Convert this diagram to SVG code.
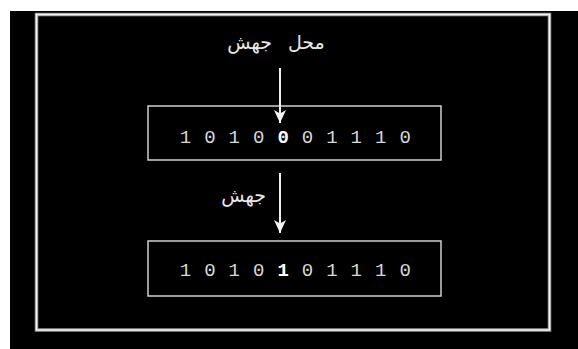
<svg xmlns="http://www.w3.org/2000/svg" width="578" height="349" viewBox="0 0 578 349">
  <style>
    .box { fill: #000; stroke: #d0d0d0; stroke-width: 1.5; }
    .bit { font-family: "Liberation Mono", "DejaVu Sans Mono", monospace; font-size: 19px; fill: #d8d8d8; text-anchor: middle; }
    .hot { fill: #ffffff; font-weight: bold; }
    .lbl { font-family: "DejaVu Sans", "Noto Sans", sans-serif; font-size: 19px; fill: #e8e8e8; }
    .conn { stroke: #f0f0f0; stroke-width: 2; fill: none; marker-end: url(#ah); }
  </style>
  <defs>
    <marker id="ah" markerUnits="userSpaceOnUse" markerWidth="14" markerHeight="12" viewBox="0 0 14 12" refX="13" refY="6" orient="auto">
      <path d="M0,0 L13,6 L0,12 L3.5,6 Z" fill="#f5f5f5"/>
    </marker>
  </defs>
  <rect x="0" y="0" width="578" height="349" fill="#ffffff"/>
  <rect x="10" y="11" width="568" height="338" fill="#000000"/>
  <g id="frame">
    <rect x="36.5" y="14.5" width="513" height="315.5" fill="none" stroke="#9a9a9a" stroke-width="3.5"/>
    <rect x="36.5" y="14.5" width="513" height="315.5" fill="none" stroke="#f4f4f4" stroke-width="1.5"/>
  </g>
  <g id="label-site">
    <text class="lbl" x="276" y="49" text-anchor="middle" word-spacing="10">محل جهش</text>
  </g>
  <g id="before">
    <rect class="box" x="148" y="106" width="293" height="54"/>
    <text class="bit" y="142.5"><tspan x="185.5">1</tspan><tspan x="209.9">0</tspan><tspan x="234.3">1</tspan><tspan x="258.7">0</tspan><tspan x="283.1" class="hot">0</tspan><tspan x="307.5">0</tspan><tspan x="331.9">1</tspan><tspan x="356.3">1</tspan><tspan x="380.7">1</tspan><tspan x="405.1">0</tspan></text>
  </g>
  <g id="label-mutation">
    <text class="lbl" x="266" y="202" text-anchor="end">جهش</text>
  </g>
  <g id="after">
    <rect class="box" x="148" y="241" width="293" height="55"/>
    <text class="bit" y="275.5"><tspan x="185.5">1</tspan><tspan x="209.9">0</tspan><tspan x="234.3">1</tspan><tspan x="258.7">0</tspan><tspan x="283.1" class="hot">1</tspan><tspan x="307.5">0</tspan><tspan x="331.9">1</tspan><tspan x="356.3">1</tspan><tspan x="380.7">1</tspan><tspan x="405.1">0</tspan></text>
  </g>
  <g id="connectors">
    <line x1="280" y1="68" x2="280" y2="123" class="conn" stroke-width="1.5"/>
    <line x1="280" y1="173" x2="280" y2="233" class="conn"/>
  </g>
</svg>
